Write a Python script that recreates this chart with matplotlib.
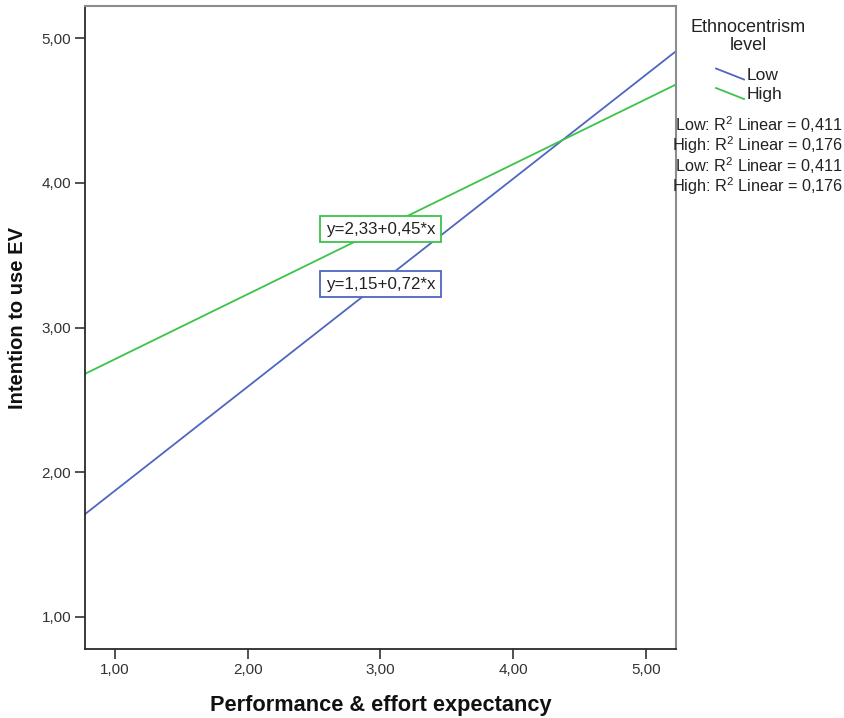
import matplotlib
matplotlib.use("Agg")
import matplotlib.pyplot as plt
from matplotlib.lines import Line2D
import numpy as np

plt.rcParams['font.family'] = ['Liberation Sans', 'DejaVu Sans']
plt.rcParams['mathtext.fontset'] = 'custom'
plt.rcParams['mathtext.rm'] = 'Liberation Sans'
plt.rcParams['mathtext.it'] = 'Liberation Sans'

# data
groups = ['Low', 'High']
intercepts = [1.15, 2.33]
slopes = [0.72, 0.45]
r2 = [0.411, 0.176]
colors = ['#4f66c0', '#3cc34a']
label_pos_x = [3.0, 3.0]
label_pos_y = [3.30, 3.68]
ticks = [1, 2, 3, 4, 5]
x_range = [0.777, 5.223]
y_range = [0.777, 5.223]

W, H = 845, 718
fig = plt.figure(figsize=(W / 100, H / 100), dpi=100)
ax = fig.add_axes([85 / W, 1 - 649 / H, (676 - 85) / W, (649 - 6) / H])


def fmt(v, nd=2):
    return f"{v:.{nd}f}".replace('.', ',')


xs = np.array(x_range)
for g, a, b, c, lx, ly in zip(groups, intercepts, slopes, colors, label_pos_x, label_pos_y):
    ax.plot(xs, a + b * xs, color=c, lw=1.3, solid_capstyle='butt')
    ax.text(lx, ly, f"y={fmt(a)}+{fmt(b)}*x", ha='center', va='center',
            fontsize=12.2, color='#222222',
            bbox=dict(boxstyle='square,pad=0.32', fc='white', ec=c, lw=1.3))

ax.set_xlim(x_range)
ax.set_ylim(y_range)
ax.set_xticks(ticks)
ax.set_yticks(ticks)
ax.set_xticklabels([fmt(t) for t in ticks])
ax.set_yticklabels([fmt(t) for t in ticks])
ax.tick_params(direction='out', length=7, width=1.2, color='#333333',
               labelsize=11, labelcolor='#333333', pad=3)

for s in ['left', 'bottom']:
    ax.spines[s].set_color('#2a2a2a')
    ax.spines[s].set_linewidth(1.3)
for s in ['top', 'right']:
    ax.spines[s].set_color('#8c8c8c')
    ax.spines[s].set_linewidth(1.5)

fig.text(18 / W, 1 - 318 / H, 'Intention to use EV', rotation=90, ha='center', va='center',
         fontsize=14.5, fontweight='bold', color='#111111')
fig.text(381 / W, 1 - 705 / H, 'Performance & effort expectancy', ha='center', va='center',
         fontsize=15.7, fontweight='bold', color='#111111')

# legend
def px(x, y):
    return x / W, 1 - y / H

fig.text(*px(748, 27), 'Ethnocentrism', ha='center', va='center', fontsize=13, color='#222222')
fig.text(*px(748, 45), 'level', ha='center', va='center', fontsize=13, color='#222222')
for i, (g, c) in enumerate(zip(groups, colors)):
    y0 = 68.5 + i * 19.5
    x1, y1 = px(716, y0)
    x2, y2 = px(744, y0 + 11)
    fig.add_artist(Line2D([x1, x2], [y1, y2], transform=fig.transFigure, color=c, lw=1.3))
    fig.text(*px(747, y0 + 7), g, ha='left', va='center', fontsize=12.5, color='#222222')

r2_lines = [f"{g}: R$^2$ Linear = {fmt(v, 3)}" for g, v in zip(groups, r2)] * 2
for i, t in enumerate(r2_lines):
    fig.text(*px(843, 125 + i * 20.5), t, ha='right', va='center', fontsize=11.7, color='#222222')

fig.savefig('out.png', dpi=100)
